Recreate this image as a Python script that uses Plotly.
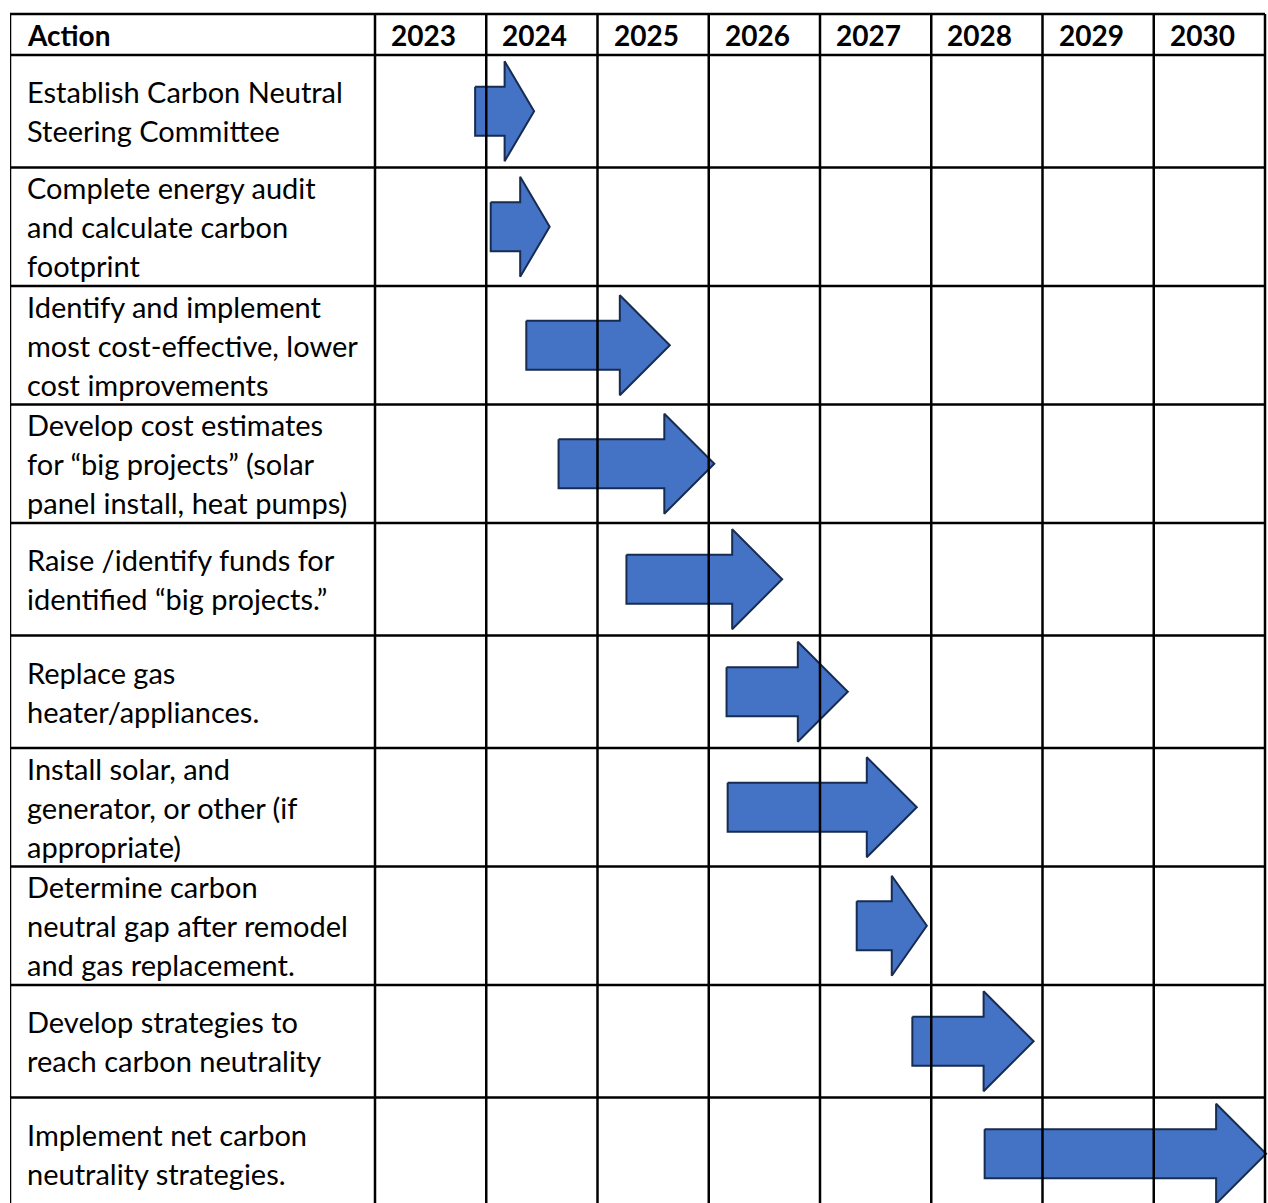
import plotly.graph_objects as go

# ---------------- data ----------------
years = [2023, 2024, 2025, 2026, 2027, 2028, 2029, 2030]
header_label = "Action"
actions = [
    "Establish Carbon Neutral<br>Steering Committee",
    "Complete energy audit<br>and calculate carbon<br>footprint",
    "Identify and implement<br>most cost-effective, lower<br>cost improvements",
    "Develop cost estimates<br>for \u201cbig projects\u201d (solar<br>panel install, heat pumps)",
    "Raise /identify funds for<br>identified \u201cbig projects.\u201d",
    "Replace gas<br>heater/appliances.",
    "Install solar, and<br>generator, or other (if<br>appropriate)",
    "Determine carbon<br>neutral gap after remodel<br>and gas replacement.",
    "Develop strategies to<br>reach carbon neutrality",
    "Implement net carbon<br>neutrality strategies.",
]
arrow_start = [2023.90, 2024.04, 2024.36, 2024.65, 2025.26, 2026.16, 2026.17, 2027.33, 2027.83, 2028.48]
arrow_end = [2024.43, 2024.57, 2025.65, 2026.05, 2026.66, 2027.25, 2027.87, 2027.96, 2028.92, 2031.01]

# ---------------- layout constants ----------------
W, H = 1268, 1203
TABLE_LEFT_PX = 10
YEAR0_PX = 375
YEAR_W_PX = 111.25
TABLE_TOP = 14
HEADER_H = 41
ROW_H = {2: 112.5, 3: 118.5}
LINE_GAP = 39
PAD = 15
FONT = "Lato"
TEXT_SIZE = 29
HEAD_SIZE = 28
FILL = "#4472C4"
EDGE = "#172C51"
GRID_W = 2.5
BODY_HALF = 24.5
HEAD_HALF = 50
HEAD_LEN_MAX = 50 / YEAR_W_PX

x0 = years[0] - (YEAR0_PX - TABLE_LEFT_PX) / YEAR_W_PX
x1 = years[0] + (W - YEAR0_PX) / YEAR_W_PX
x_table_right = years[-1] + 1

# row boundaries (y axis in pixel-like units, top to bottom)
bounds = [TABLE_TOP, TABLE_TOP + HEADER_H]
for a in actions:
    n = a.count("<br>") + 1
    bounds.append(bounds[-1] + ROW_H[n])

fig = go.Figure()

# arrows
for i, (s, e) in enumerate(zip(arrow_start, arrow_end)):
    cy = (bounds[i + 1] + bounds[i + 2]) / 2
    hl = min(0.5 * (e - s), HEAD_LEN_MAX)
    hb = e - hl
    xs = [s, hb, hb, e, hb, hb, s, s]
    ys = [cy - BODY_HALF, cy - BODY_HALF, cy - HEAD_HALF, cy, cy + HEAD_HALF,
          cy + BODY_HALF, cy + BODY_HALF, cy - BODY_HALF]
    fig.add_trace(go.Scatter(x=xs, y=ys, mode="lines", fill="toself",
                             fillcolor=FILL, line=dict(color=EDGE, width=2),
                             hoverinfo="skip", showlegend=False))

# grid lines (above arrows)
shapes = []
bottom = bounds[-1]
for xv in [x0] + years + [x_table_right]:
    shapes.append(dict(type="line", xref="x", yref="y", x0=xv, x1=xv,
                       y0=TABLE_TOP, y1=bottom, layer="above",
                       line=dict(color="black", width=GRID_W)))
for yv in bounds:
    shapes.append(dict(type="line", xref="x", yref="y", x0=x0, x1=x_table_right,
                       y0=yv, y1=yv, layer="above",
                       line=dict(color="black", width=GRID_W)))

annotations = []
hy = (bounds[0] + bounds[1]) / 2
annotations.append(dict(x=x0, y=hy, xref="x", yref="y", text="<b>%s</b>" % header_label,
                        xanchor="left", yanchor="middle", xshift=PAD, showarrow=False,
                        font=dict(family=FONT, size=HEAD_SIZE, color="black")))
for yr in years:
    annotations.append(dict(x=yr, y=hy, xref="x", yref="y", text="<b>%d</b>" % yr,
                            xanchor="left", yanchor="middle", xshift=PAD - 1, showarrow=False,
                            font=dict(family=FONT, size=HEAD_SIZE, color="black")))
for i, a in enumerate(actions):
    lines = a.split("<br>")
    cy = (bounds[i + 1] + bounds[i + 2]) / 2
    n = len(lines)
    for j, ln in enumerate(lines):
        annotations.append(dict(x=x0, y=cy + (j - (n - 1) / 2) * LINE_GAP, xref="x", yref="y",
                                text=ln, xanchor="left", yanchor="middle", xshift=PAD,
                                showarrow=False,
                                font=dict(family=FONT, size=TEXT_SIZE, color="black")))

fig.update_layout(
    width=W, height=H, autosize=False,
    margin=dict(l=TABLE_LEFT_PX, r=0, t=0, b=0, pad=0),
    paper_bgcolor="white", plot_bgcolor="white",
    xaxis=dict(range=[x0, x1], visible=False, fixedrange=True),
    yaxis=dict(range=[H, 0], visible=False, fixedrange=True),
    shapes=shapes, annotations=annotations, showlegend=False,
)

fig.write_html(
    "out.html",
    config={"displayModeBar": False},
    post_script="document.body.style.margin='0';document.body.style.overflow='hidden';",
)
